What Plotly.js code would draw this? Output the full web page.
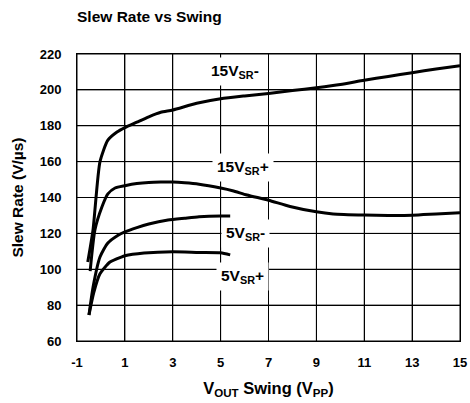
<!DOCTYPE html>
<html>
<head>
<meta charset="utf-8">
<script src="https://cdn.plot.ly/plotly-3.0.1.min.js"></script>
<style>html,body{margin:0;padding:0;background:#fff}#chart{width:470px;height:403px}</style>
</head>
<body>
<div id="chart"></div>
<script>
// Data
const sr15Minus_x = [-0.55, -0.33, -0.04, 0.29, 0.67, 1.0, 1.5, 2.0, 2.5, 3.0, 4.0, 5.0, 6.0, 7.0, 8.0, 9.0, 10.0, 11.0, 12.0, 13.0, 14.0, 15.0];
const sr15Minus_y = [104, 122, 160, 172, 176.5, 179, 182, 185, 187.5, 188.8, 192.5, 195, 196.6, 198, 199.6, 201.2, 203, 205.4, 207.5, 209.6, 211.6, 213.5];

const sr15Plus_x = [-0.45, -0.25, 0.04, 0.29, 0.59, 1.0, 1.5, 2.0, 2.5, 3.0, 3.5, 4.1, 5.0, 5.5, 6.1, 7.0, 7.9, 9.0, 9.7, 11.0, 12.0, 13.0, 14.0, 15.0];
const sr15Plus_y = [99, 122, 134.7, 142, 145.3, 146.6, 147.8, 148.4, 148.6, 148.6, 148.2, 147.4, 145.3, 143.8, 141.4, 138.5, 135, 132, 130.8, 130.2, 130, 130.1, 130.8, 131.5];

const sr5Minus_x = [-0.5, -0.33, -0.04, 0.29, 0.7, 1.0, 1.5, 2.0, 2.8, 3.5, 4.1, 5.0, 5.4];
const sr5Minus_y = [74.5, 90, 106.8, 114.6, 118.8, 120.8, 123.2, 125.2, 127.4, 128.4, 129.2, 129.7, 129.7];

const sr5Plus_x = [-0.5, -0.3, -0.04, 0.38, 0.85, 1.0, 1.8, 3.0, 4.1, 5.0, 5.4];
const sr5Plus_y = [74.5, 87, 97.5, 104, 106.8, 107.5, 109, 109.8, 109.4, 109.2, 108];

const xTicks = [-1, 1, 3, 5, 7, 9, 11, 13, 15];
const yTicks = [60, 80, 100, 120, 140, 160, 180, 200, 220];

const labelText = ['15V<sub>SR</sub>-', '15V<sub>SR</sub>+', '5V<sub>SR</sub>-', '5V<sub>SR</sub>+'];
const labelX = [5.58, 5.95, 6.02, 5.93];
const labelY = [210, 157, 120.2, 95.7];

const FONT = 'Arial, "Liberation Sans", sans-serif';
const lineStyle = {color: '#000', width: 3, shape: 'spline', smoothing: 0.6};

const traces = [
  {x: sr15Minus_x, y: sr15Minus_y},
  {x: sr15Plus_x, y: sr15Plus_y},
  {x: sr5Minus_x, y: sr5Minus_y},
  {x: sr5Plus_x, y: sr5Plus_y}
].map(t => Object.assign(t, {type: 'scatter', mode: 'lines', line: lineStyle, hoverinfo: 'skip', showlegend: false}));

const annotations = labelText.map((t, i) => ({
  x: labelX[i], y: labelY[i], xref: 'x', yref: 'y', text: t, showarrow: false,
  bgcolor: '#fff', borderpad: 4,
  font: {family: FONT, size: 15.5, color: '#000', weight: 'bold'}
}));

// Grid lines placed at the tick values via the axis scales
const gridStyle = {color: '#000', width: 1};
const shapes = []
  .concat(xTicks.map(v => ({type: 'line', xref: 'x', yref: 'paper', x0: v, x1: v, y0: 0, y1: 1, line: gridStyle, layer: 'below'})))
  .concat(yTicks.map(v => ({type: 'line', xref: 'paper', yref: 'y', x0: 0, x1: 1, y0: v, y1: v, line: gridStyle, layer: 'below'})));

const layout = {
  width: 470, height: 403,
  margin: {l: 77, r: 10, t: 54, b: 62},
  paper_bgcolor: '#fff', plot_bgcolor: 'rgba(0,0,0,0)',
  font: {family: FONT, color: '#000'},
  title: {
    text: 'Slew Rate vs Swing',
    x: 77 / 470, xref: 'container', xanchor: 'left',
    y: 1 - 17 / 403, yref: 'container', yanchor: 'middle',
    font: {family: FONT, size: 15.5, color: '#000', weight: 'bold'}
  },
  xaxis: {
    range: [-1, 15], tickmode: 'array', tickvals: xTicks, ticktext: xTicks.map(String),
    showgrid: true, gridcolor: '#000', gridwidth: 1, zeroline: false,
    showline: true, linecolor: '#000', linewidth: 1, mirror: true,
    ticks: 'outside', ticklen: 9, tickcolor: 'rgba(0,0,0,0)',
    tickfont: {family: FONT, size: 13, color: '#000', weight: 'bold'},
    title: {text: 'V<sub>OUT</sub> Swing (V<sub>PP</sub>)', standoff: 13,
      font: {family: FONT, size: 16.5, color: '#000', weight: 'bold'}},
    automargin: false, fixedrange: true
  },
  yaxis: {
    range: [60, 220], tickmode: 'array', tickvals: yTicks, ticktext: yTicks.map(String),
    showgrid: true, gridcolor: '#000', gridwidth: 1, zeroline: false,
    showline: true, linecolor: '#000', linewidth: 1, mirror: true,
    ticks: 'outside', ticklen: 12, tickcolor: 'rgba(0,0,0,0)',
    tickfont: {family: FONT, size: 13, color: '#000', weight: 'bold'},
    title: {text: 'Slew Rate (V/µs)', standoff: 12,
      font: {family: FONT, size: 15.5, color: '#000', weight: 'bold'}},
    automargin: false, fixedrange: true
  },
  shapes: shapes,
  annotations: annotations
};

Plotly.newPlot('chart', traces, layout, {staticPlot: true, displayModeBar: false});
</script>
</body>
</html>
